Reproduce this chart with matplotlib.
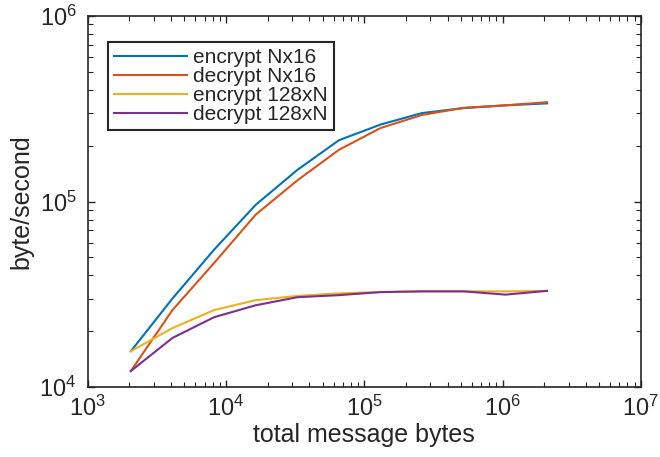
import matplotlib
matplotlib.use('Agg')
from matplotlib import pyplot as plt

# message sizes 2^11 .. 2^21 bytes
msg_bytes = [2048, 4096, 8192, 16384, 32768, 65536, 131072, 262144, 524288, 1048576, 2097152]

enc_nx16 = [1.56e4, 3.0e4, 5.5e4, 9.6e4, 1.48e5, 2.14e5, 2.6e5, 3.0e5, 3.19e5, 3.3e5, 3.38e5]
dec_nx16 = [1.22e4, 2.6e4, 4.66e4, 8.5e4, 1.3e5, 1.9e5, 2.49e5, 2.93e5, 3.2e5, 3.3e5, 3.43e5]
enc_128xn = [1.56e4, 2.08e4, 2.6e4, 2.94e4, 3.1e4, 3.2e4, 3.25e4, 3.28e4, 3.28e4, 3.28e4, 3.3e4]
dec_128xn = [1.22e4, 1.84e4, 2.38e4, 2.76e4, 3.05e4, 3.13e4, 3.25e4, 3.28e4, 3.28e4, 3.15e4, 3.3e4]

labels = ['encrypt Nx16', 'decrypt Nx16', 'encrypt 128xN', 'decrypt 128xN']
colors = ['#0072BD', '#D95319', '#EDB120', '#7E2F8E']

plt.rcParams['font.family'] = ['Liberation Sans', 'DejaVu Sans']
plt.rcParams['mathtext.fontset'] = 'custom'
plt.rcParams['mathtext.rm'] = 'Liberation Sans'

fig = plt.figure(figsize=(6.6, 4.57), dpi=100)
ax = fig.add_axes([0.133, 0.153, 0.838, 0.812])

for ys, lab, c in zip([enc_nx16, dec_nx16, enc_128xn, dec_128xn], labels, colors):
    ax.plot(msg_bytes, ys, color=c, lw=1.5, label=lab)

ax.set_xscale('log')
ax.set_yscale('log')
ax.set_xlim(1e3, 1e7)
ax.set_ylim(1e4, 1e6)
ax.tick_params(which='both', direction='in', top=True, right=True, labelsize=17, colors='#262626')
ax.tick_params(axis='x', which='major', pad=6)
ax.tick_params(axis='y', which='major', pad=8)
ax.tick_params(which='major', length=5, width=1.0)
ax.tick_params(which='minor', length=3.5, width=0.8)
for s in ax.spines.values():
    s.set_linewidth(1.2)
    s.set_color('#262626')

ax.set_xlabel('total message bytes', fontsize=18, color='#262626', labelpad=2)
ax.set_ylabel('byte/second', fontsize=18, color='#262626', labelpad=4)

leg = ax.legend(loc='upper left', bbox_to_anchor=(0.036, 0.93), fontsize=15,
                fancybox=False, framealpha=1, edgecolor='#262626',
                handlelength=3.5, handletextpad=0.3, labelspacing=0.0,
                borderpad=0.3, borderaxespad=0)
leg.get_frame().set_linewidth(1.5)
for t in leg.get_texts():
    t.set_color('#262626')

fig.savefig('out.png', dpi=100)
